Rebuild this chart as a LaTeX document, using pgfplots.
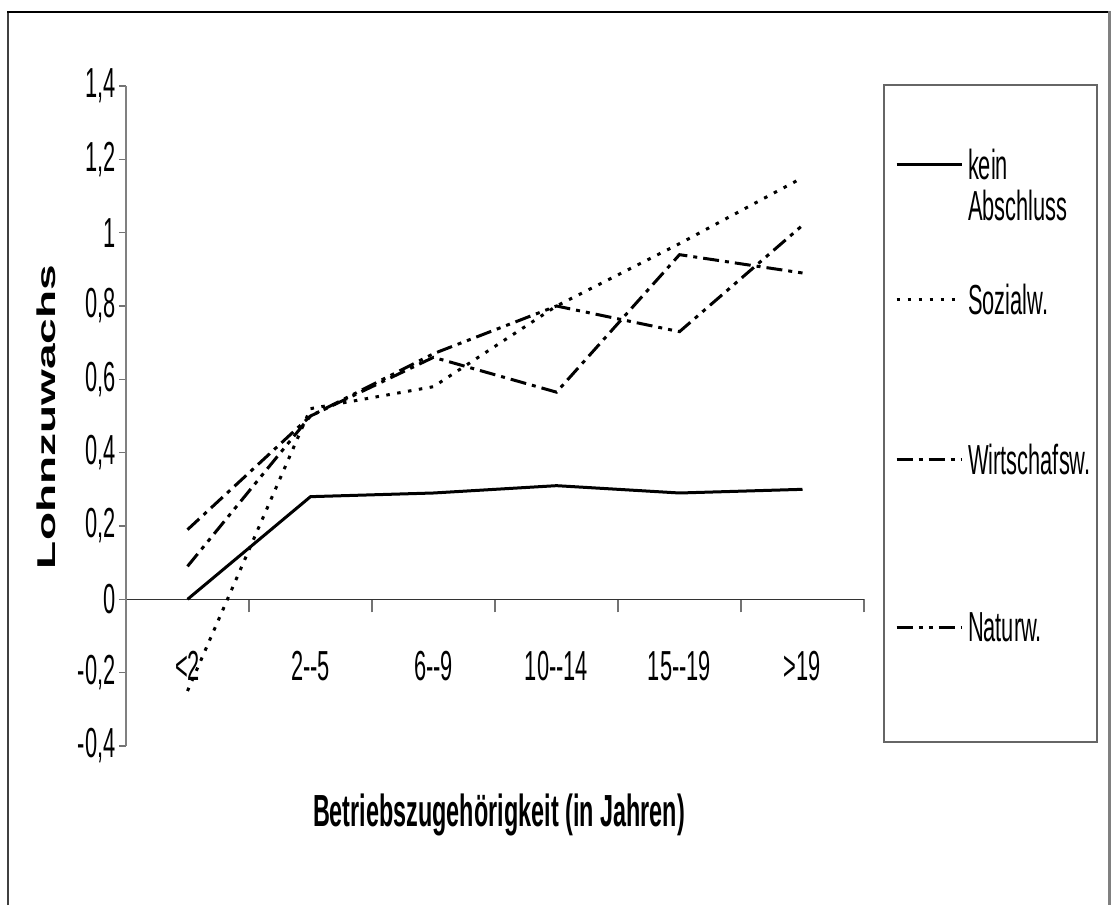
\documentclass[border=0pt]{standalone}
\usepackage{graphicx}
\usepackage{fontspec}
\setmainfont{Liberation Sans}[FakeStretch=0.52, Ligatures=TeXOff]
\newfontfamily\uprightsans{Liberation Sans}[Ligatures=TeXOff]
\usepackage{pgfplots}
\pgfplotsset{compat=1.18}

\begin{document}
\begin{tikzpicture}[x=1pt,y=1pt]
\path[use as bounding box] (0,0) rectangle (1111,905);
% outer chart frame
\draw[line width=2pt, black!75] (8,0) -- (8,893);
\draw[line width=2pt, black] (7,893) -- (1110,893);
\draw[line width=3pt, black!50] (1109,894) -- (1109,0);
% legend frame
\draw[line width=1.5pt, black!60] (884,820) rectangle (1097,163);

\begin{axis}[
  at={(126pt,159pt)}, anchor=south west,
  scale only axis, width=738pt, height=660pt,
  xmin=-0.5, xmax=5.5, ymin=-0.4, ymax=1.4,
  axis x line=middle, axis y line=left,
  axis line style={-},
  x axis line style={black!80, line width=1.5pt},
  y axis line style={black!50, line width=2pt},
  tick align=outside,
  major tick length=7pt, minor tick length=13pt,
  xtick={0,1,2,3,4,5},
  xticklabels={<2, 2--5, 6--9, 10--14, 15--19, >19},
  minor xtick={0.5,1.5,2.5,3.5,4.5,5.5},
  major x tick style={draw=none},
  minor x tick style={black!55, line width=1.5pt},
  ytick={-0.4,-0.2,0,0.2,0.4,0.6,0.8,1,1.2,1.4},
  yticklabels={{-0,4},{-0,2},0,{0,2},{0,4},{0,6},{0,8},1,{1,2},{1,4}},
  y tick style={black!55, line width=1.5pt},
  tick label style={font=\fontsize{42}{43}\selectfont},
  xticklabel style={anchor=center, yshift=-60pt},
  every axis x label/.style={at={(axis description cs:0.5054,-0.1045)}, anchor=center},
  every axis y label/.style={at={(axis description cs:-0.108,0.4985)}, rotate=90, anchor=center},
  xlabel={\bfseries\fontsize{45}{47}\selectfont Betriebszugeh\"origkeit (in Jahren)},
  ylabel={\scalebox{1}[0.56]{\uprightsans\bfseries\fontsize{46}{48}\selectfont Lohnzuwachs}},
  legend style={draw=none, fill=none, at={(axis description cs:1.04201,0.9561)},
    anchor=north west, inner sep=0pt, outer sep=0pt, row sep=0pt, column sep=5pt,
    nodes={inner sep=0pt}, font=\fontsize{42}{37}\selectfont},
  legend cell align=left,
  legend image code/.code={\draw[#1] (0pt,0pt) -- (65pt,0pt);},
]
% kein Abschluss
\addplot[black, line width=3pt] coordinates {(0,0) (1,0.28) (2,0.29) (3,0.31) (4,0.29) (5,0.30)};
\addlegendentry[minimum height=100pt]{\raisebox{0pt}[\height][0pt]{\begin{tabular}[t]{@{}l@{}}kein\\Abschluss\end{tabular}}}
% Sozialwissenschaften
\addplot[black, line width=3pt, dash pattern=on 3.5pt off 7.5pt] coordinates {(0,-0.25) (1,0.52) (2,0.58) (3,0.80) (4,0.97) (5,1.15)};
\addlegendentry[minimum height=170pt]{Sozialw.}
% Wirtschaftswissenschaften
\addplot[black, line width=3pt, dash pattern=on 16pt off 6pt on 4pt off 6pt] coordinates {(0,0.19) (1,0.50) (2,0.66) (3,0.565) (4,0.94) (5,0.89)};
\addlegendentry[minimum height=150pt]{Wirtschafsw.}
% Naturwissenschaften
\addplot[black, line width=3pt, dash pattern=on 16pt off 6pt on 4pt off 6pt on 4pt off 6pt] coordinates {(0,0.09) (1,0.50) (2,0.67) (3,0.80) (4,0.73) (5,1.02)};
\addlegendentry[minimum height=186pt]{Naturw.}
\end{axis}
\end{tikzpicture}
\end{document}
